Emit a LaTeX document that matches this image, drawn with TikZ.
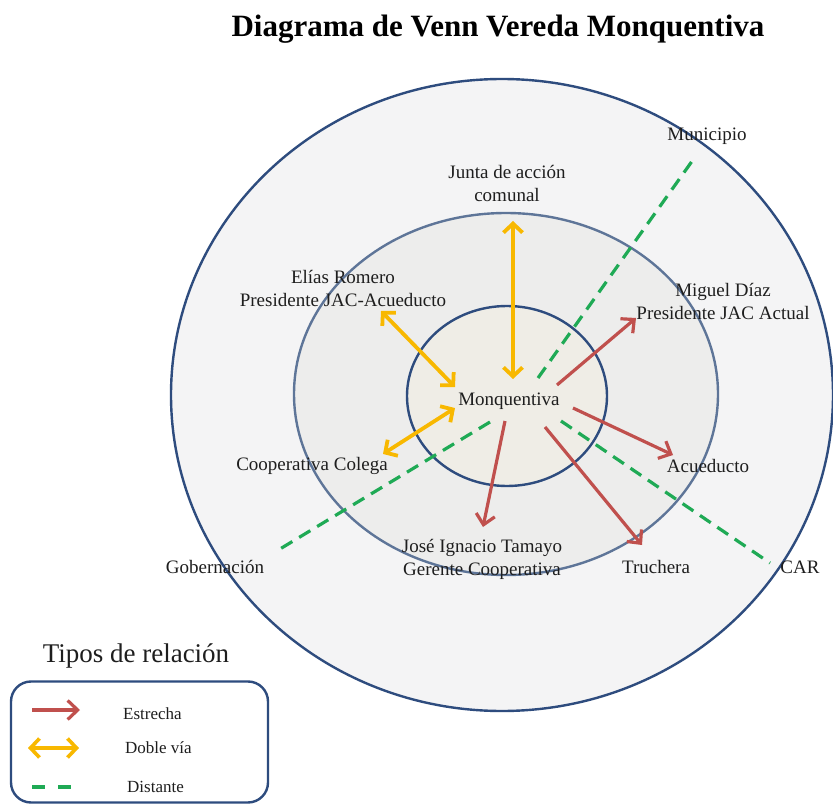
\documentclass[tikz,border=0pt]{standalone}
\usepackage{fontspec}
\setmainfont{Liberation Serif}
\usetikzlibrary{arrows.meta}
\definecolor{ringblue}{HTML}{2E4C7E}
\definecolor{midblue}{HTML}{5E7598}
\definecolor{outerfill}{HTML}{F4F4F5}
\definecolor{midfill}{HTML}{EDEDEC}
\definecolor{innerfill}{HTML}{EFEDE6}
\definecolor{redc}{HTML}{C0504D}
\definecolor{yel}{HTML}{F8B800}
\definecolor{grn}{HTML}{1FAA55}
\definecolor{txt}{HTML}{1E1E1E}
\begin{document}
\begin{tikzpicture}[x=1pt,y=-1pt,
  lbl/.style={text=txt, align=center, inner sep=0pt, font=\fontsize{19}{23}\selectfont},
  leg/.style={text=txt, anchor=west, inner sep=0pt, font=\fontsize{17}{20}\selectfont},
  strong/.style={draw=redc, line width=3.2pt, -{Straight Barb[length=10pt,width=19pt]}},
  both/.style={draw=yel, line width=3.8pt, {Straight Barb[length=9pt,width=19pt]}-{Straight Barb[length=9pt,width=19pt]}},
  distant/.style={draw=grn, line width=3.2pt, dash pattern=on 13pt off 8pt},
  ring/.style={line width=2.4pt}]
\useasboundingbox (0,0) rectangle (833,805);
\fill[white] (0,0) rectangle (833,805);
% rings
\filldraw[ring, draw=ringblue, fill=outerfill] (502,395) ellipse [x radius=331, y radius=316];
\filldraw[ring, draw=midblue, fill=midfill] (506,394) ellipse [x radius=212, y radius=181];
\filldraw[ring, draw=ringblue, fill=innerfill] (507,396) ellipse [x radius=100, y radius=90];
% title
\node[text=black, inner sep=0pt, font=\fontsize{31}{34}\selectfont\bfseries] (title) at (498,29) {Diagrama de Venn Vereda Monquentiva};
% labels
\node[lbl] (mq) at (509,401) {Monquentiva};
\node[lbl] (muni) at (707,136) {Municipio};
\node[lbl] (junta) at (507,183) {Junta de acción\\comunal};
\node[lbl] (elias) at (343,288) {Elías Romero\\Presidente JAC-Acueducto};
\node[lbl] (miguel) at (723,301) {Miguel Díaz\\Presidente JAC Actual};
\node[lbl] (coop) at (312,466) {Cooperativa Colega};
\node[lbl] (acue) at (708,466) {Acueducto};
\node[lbl] (jose) at (482,559) {José Ignacio Tamayo\\Gerente Cooperativa};
\node[lbl] (truch) at (656,567) {Truchera};
\node[lbl] (gob) at (215,567) {Gobernación};
\node[lbl] (car) at (800,567) {CAR};
% connector end points
\coordinate (jTop) at (513,221);
\coordinate (jBot) at (513,379);
\coordinate (eTop) at (381,311);
\coordinate (eBot) at (455,387);
\coordinate (cTop) at (455,408);
\coordinate (cBot) at (383,454);
\coordinate (mS) at (557,385);
\coordinate (mE) at (636,318);
\coordinate (aS) at (573,408);
\coordinate (aE) at (673,455);
\coordinate (tS) at (545,427);
\coordinate (tE) at (642,545);
\coordinate (jsS) at (505,421);
\coordinate (jsE) at (483,527);
\coordinate (muS) at (538,378);
\coordinate (muE) at (695,157);
\coordinate (goS) at (490,422);
\coordinate (goE) at (275,552);
\coordinate (caS) at (561,421);
\coordinate (caE) at (770,563);
% distant
\draw[distant] (muS) -- (muE);
\draw[distant] (goS) -- (goE);
\draw[distant] (caS) -- (caE);
% double
\draw[both] (jTop) -- (jBot);
\draw[both] (eTop) -- (eBot);
\draw[both] (cTop) -- (cBot);
% strong
\draw[strong] (mS) -- (mE);
\draw[strong] (aS) -- (aE);
\draw[strong] (tS) -- (tE);
\draw[strong] (jsS) -- (jsE);
% legend
\node[text=txt, inner sep=0pt, font=\fontsize{27}{30}\selectfont] (legt) at (136,656) {Tipos de relación};
\node[draw=ringblue, line width=2.4pt, rounded corners=20pt, minimum width=257pt, minimum height=121pt, inner sep=0pt] (legbox) at (139.5,742) {};
\coordinate (r1) at (32,710); \coordinate (r2) at (80,710);
\coordinate (y1) at (28,748); \coordinate (y2) at (79,748);
\coordinate (g1) at (32,787); \coordinate (g2) at (71,787);
\draw[strong] (r1) -- (r2);
\draw[both, line width=3.6pt] (y1) -- (y2);
\draw[distant, dash pattern=on 13pt off 13pt] (g1) -- (g2);
\node[leg] (l1) at (123,714) {Estrecha};
\node[leg] (l2) at (125,748) {Doble vía};
\node[leg] (l3) at (127,787) {Distante};
\end{tikzpicture}
\end{document}
